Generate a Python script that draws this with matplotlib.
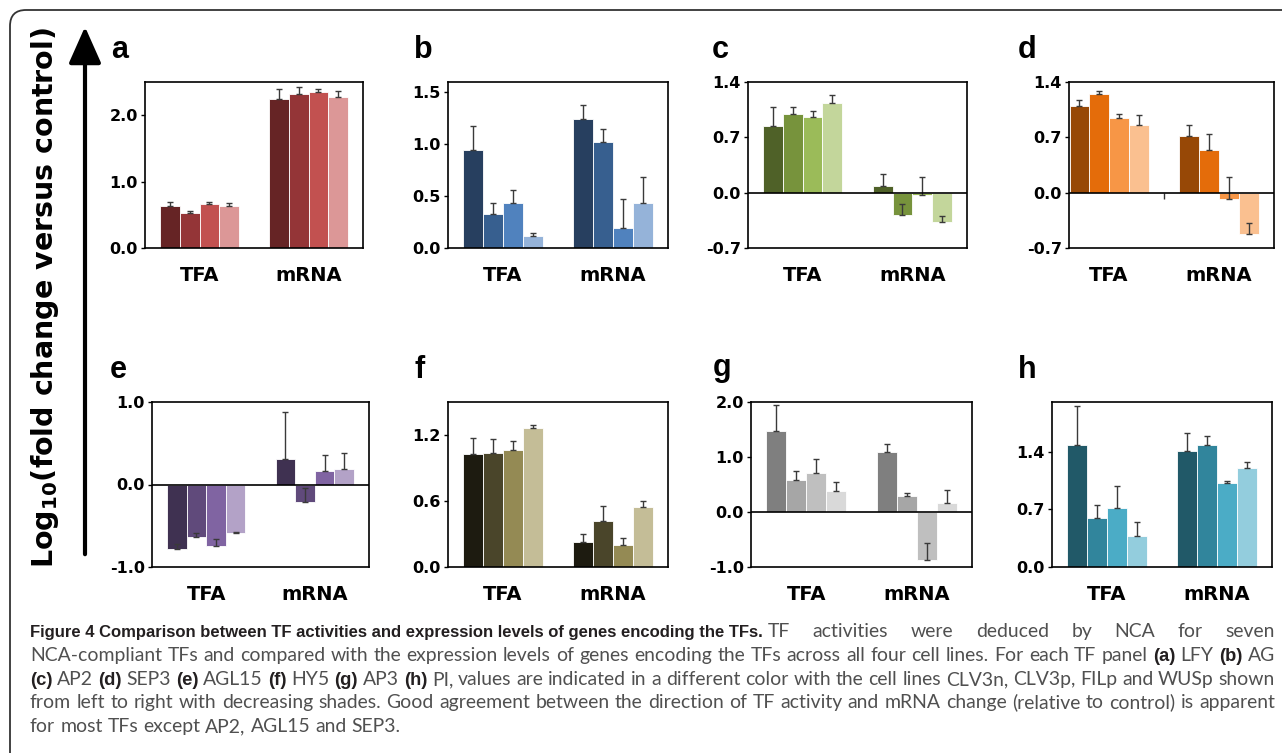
import matplotlib
matplotlib.use('Agg')
import matplotlib.pyplot as plt
import numpy as np
from matplotlib.patches import FancyBboxPatch, FancyArrowPatch
from matplotlib.transforms import IdentityTransform
from matplotlib import font_manager
from matplotlib.font_manager import FontProperties

plt.rcParams['font.family'] = ['Liberation Sans', 'DejaVu Sans']
plt.rcParams['mathtext.fontset'] = 'dejavusans'

W, H = 1282, 753

# ---------------- data ----------------
groups = ['TFA', 'mRNA']
cell_lines = ['CLV3n', 'CLV3p', 'FILp', 'WUSp']

a_vals = [[0.64, 0.53, 0.67, 0.63], [2.25, 2.32, 2.35, 2.27]]
a_err = [[0.05, 0.03, 0.03, 0.05], [0.15, 0.11, 0.04, 0.09]]
b_vals = [[0.945, 0.33, 0.435, 0.12], [1.24, 1.02, 0.19, 0.435]]
b_err = [[0.235, 0.10, 0.125, 0.02], [0.14, 0.13, 0.28, 0.245]]
c_vals = [[0.84, 0.99, 0.96, 1.135], [0.088, -0.28, -0.03, -0.374]]
c_err = [[0.24, 0.09, 0.07, 0.095], [0.147, 0.137, 0.23, 0.074]]
d_vals = [[1.10, 1.25, 0.946, 0.86], [0.72, 0.546, -0.076, -0.52]]
d_err = [[0.07, 0.03, 0.044, 0.12], [0.13, 0.19, 0.28, 0.133]]
e_vals = [[-0.776, -0.634, -0.744, -0.585], [0.313, -0.207, 0.163, 0.19]]
e_err = [[0.056, 0.049, 0.084, 0.008], [0.569, 0.17, 0.195, 0.188]]
f_vals = [[1.03, 1.035, 1.065, 1.266], [0.223, 0.42, 0.198, 0.544]]
f_err = [[0.14, 0.125, 0.085, 0.027], [0.075, 0.136, 0.067, 0.054]]
g_vals = [[1.48, 0.585, 0.71, 0.374], [1.09, 0.30, -0.88, 0.17]]
g_err = [[0.47, 0.155, 0.256, 0.176], [0.15, 0.05, 0.313, 0.234]]
h_vals = [[1.48, 0.59, 0.718, 0.38], [1.404, 1.484, 1.0125, 1.194]]
h_err = [[0.47, 0.156, 0.258, 0.17], [0.216, 0.101, 0.025, 0.073]]

# stray error mark between groups in panel d
d_stray_x = [0.5]
d_stray_val = [-0.08]

a_colors = ['#662425', '#943537', '#c25150', '#dc9797']
b_colors = ['#273f5f', '#375f8f', '#5082be', '#95b3d9']
c_colors = ['#4f6128', '#77933c', '#9bbb59', '#c3d69b']
d_colors = ['#974806', '#e46c0a', '#f79646', '#fac090']
e_colors = ['#3f3151', '#604a7b', '#8064a2', '#b3a2c7']
f_colors = ['#1d1b10', '#4a452a', '#948a54', '#c4bd97']
g_colors = ['#7f7f7f', '#a6a6a6', '#bfbfbf', '#d9d9d9']
h_colors = ['#215968', '#31859c', '#4bacc6', '#93cddd']

a_ticks = [0.0, 1.0, 2.0]
b_ticks = [0.0, 0.5, 1.0, 1.5]
c_ticks = [-0.7, 0.0, 0.7, 1.4]
d_ticks = [-0.7, 0.0, 0.7, 1.4]
e_ticks = [-1.0, 0.0, 1.0]
f_ticks = [0.0, 0.6, 1.2]
g_ticks = [-1.0, 0.0, 1.0, 2.0]
h_ticks = [0.0, 0.7, 1.4]

# ---------------- layout (pixels: left, top, right, bottom) ----------------
panels = [
    dict(name='a', vals=a_vals, err=a_err, colors=a_colors, ticks=a_ticks, ylim=(0, 2.5),
         rect=(145, 82, 363, 248), xlim=(-0.5, 1.5), zero=False, lab=(120, 58)),
    dict(name='b', vals=b_vals, err=b_err, colors=b_colors, ticks=b_ticks, ylim=(0, 1.6),
         rect=(448, 82, 668, 248), xlim=(-0.5, 1.5), zero=False, lab=(423, 58)),
    dict(name='c', vals=c_vals, err=c_err, colors=c_colors, ticks=c_ticks, ylim=(-0.7, 1.4),
         rect=(748, 82, 967, 248), xlim=(-0.5, 1.5), zero=True, lab=(720, 58)),
    dict(name='d', vals=d_vals, err=d_err, colors=d_colors, ticks=d_ticks, ylim=(-0.7, 1.4),
         rect=(1069, 82, 1274, 248), xlim=(-0.365, 1.5), zero=True, lab=(1027, 58)),
    dict(name='e', vals=e_vals, err=e_err, colors=e_colors, ticks=e_ticks, ylim=(-1.0, 1.0),
         rect=(152, 402, 369, 567), xlim=(-0.5, 1.5), zero=True, lab=(118, 378)),
    dict(name='f', vals=f_vals, err=f_err, colors=f_colors, ticks=f_ticks, ylim=(0, 1.5),
         rect=(448, 402, 668, 567), xlim=(-0.5, 1.5), zero=False, lab=(420, 378)),
    dict(name='g', vals=g_vals, err=g_err, colors=g_colors, ticks=g_ticks, ylim=(-1.0, 2.0),
         rect=(751, 402, 972, 567), xlim=(-0.5, 1.5), zero=True, lab=(722, 376)),
    dict(name='h', vals=h_vals, err=h_err, colors=h_colors, ticks=h_ticks, ylim=(0, 2.0),
         rect=(1052, 402, 1272, 567), xlim=(-0.5, 1.5), zero=False, lab=(1027, 378)),
]

fig = plt.figure(figsize=(W / 100, H / 100), dpi=100)
fig.patch.set_facecolor('white')

def fx(x):
    return x / W

def fy(y):
    return 1 - y / H

bar_w = 0.18
offsets = np.array([-1.5, -0.5, 0.5, 1.5]) * bar_w
gx = np.arange(len(groups))

for p in panels:
    l, t, r, b = p['rect']
    ax = fig.add_axes([fx(l), fy(b), (r - l) / W, (b - t) / H])
    vals = np.array(p['vals'])
    err = np.array(p['err'])
    for k in range(len(cell_lines)):
        xs = gx + offsets[k]
        ax.bar(xs, vals[:, k], width=bar_w, color=p['colors'][k],
               edgecolor='white', linewidth=0.6, zorder=2)
        ax.errorbar(xs, vals[:, k], yerr=[np.zeros(len(groups)), err[:, k]],
                    fmt='none', ecolor='#3a3a3a', elinewidth=1.0, capsize=2.5,
                    capthick=1.0, zorder=3)
    if p['name'] == 'd':
        ax.vlines(d_stray_x, 0, d_stray_val, color='#333333', lw=1.0, zorder=3)
    if p['zero']:
        ax.axhline(0, color='black', lw=1.2, zorder=4)
    ax.set_xlim(*p['xlim'])
    ax.set_ylim(*p['ylim'])
    ax.set_yticks(p['ticks'])
    ax.set_yticklabels(['%.1f' % v for v in p['ticks']], fontsize=11.5,
                       fontweight='bold', family='DejaVu Sans')
    ax.set_xticks(gx)
    ax.set_xticklabels(groups, fontsize=14, fontweight='bold', family='DejaVu Sans')
    ax.tick_params(axis='x', length=0, pad=13)
    ax.tick_params(axis='y', length=3, width=1, pad=2, direction='out')
    for s in ax.spines.values():
        s.set_linewidth(1.2)
        s.set_color('black')
    fig.text(fx(p['lab'][0]), fy(p['lab'][1]), p['name'], fontsize=22,
             fontweight='bold', ha='center', va='baseline')

# y label and arrow
fig.text(fx(45), fy(298), 'Log$_\\mathbf{10}$(fold change versus control)', rotation=90,
         fontsize=20.5, fontweight='bold', family='DejaVu Sans', ha='center', va='center')
arrow = FancyArrowPatch((fx(85), fy(557)), (fx(85), fy(24)), transform=fig.transFigure,
                        arrowstyle='-|>,head_length=0.45,head_width=0.2',
                        mutation_scale=50, lw=3.0, color='black')
fig.add_artist(arrow)

# border
border = FancyBboxPatch((10, -40), 1320, 743 + 40, boxstyle='round,pad=0,rounding_size=16',
                        transform=IdentityTransform(), facecolor='none',
                        edgecolor='#333333', lw=1.3)
fig.add_artist(border)

# ---------------- caption ----------------
cap_bold_lead = "Figure 4 Comparison between TF activities and expression levels of genes encoding the TFs."
cap_runs = [
    [(cap_bold_lead, True),
     ("TF activities were deduced by NCA for seven", False)],
    [("NCA-compliant TFs and compared with the expression levels of genes encoding the TFs across all four cell lines. For each TF panel", False),
     ("(a)", True), ("LFY", False), ("(b)", True), ("AG", False)],
    [("(c)", True), ("AP2", False), ("(d)", True), ("SEP3", False), ("(e)", True), ("AGL15", False),
     ("(f)", True), ("HY5", False), ("(g)", True), ("AP3", False), ("(h)", True),
     ("PI, values are indicated in a different color with the cell lines CLV3n, CLV3p, FILp and WUSp shown", False)],
    [("from left to right with decreasing shades. Good agreement between the direction of TF activity and mRNA change (relative to control) is apparent", False)],
    [("for most TFs except AP2, AGL15 and SEP3.", False)],
]
cap_baselines = [637, 661, 685, 708, 732]
cap_left, cap_right = 30, 1275
bold_lead_right = 708
cap_family = ['Lato', 'DejaVu Sans']
bold_family = ['Liberation Sans', 'DejaVu Sans']

renderer = fig.canvas.get_renderer()

def make_style(bold, size):
    if bold:
        fp = FontProperties(family=bold_family, weight='bold', size=size)
        return dict(fontproperties=fp, color='#231f20')
    fp = FontProperties(family=cap_family, weight='normal', size=size)
    return dict(fontproperties=fp, color='#505050')

def measure(word, bold, size):
    t = fig.text(0, 0, word, **make_style(bold, size))
    w = t.get_window_extent(renderer).width
    t.remove()
    return w

lines_tokens = []
for runs in cap_runs:
    toks = []
    for text, bold in runs:
        for wd in text.split(' '):
            toks.append((wd, bold))
    lines_tokens.append(toks)

# regular size: the longest all-regular line fills the width with natural spacing
size = 13.0
for _ in range(2):
    sp = measure('x x', False, size) - measure('xx', False, size)
    toks = lines_tokens[3]
    nat = sum(measure(w, b, size) for w, b in toks) + sp * (len(toks) - 1)
    size = size * (cap_right - cap_left) / nat * 0.99

# bold lead: shrink toward the reference extent but keep it readable
lead_size = size
bw = measure(cap_bold_lead, True, lead_size)
lead_size = max(lead_size * (bold_lead_right - cap_left) / bw, size * 0.86)
tok_bold_size = size * 0.95

for i, toks in enumerate(lines_tokens):
    x = cap_left
    y = fy(cap_baselines[i])
    if i == 0:
        fig.text(fx(x), y, cap_bold_lead, va='baseline', ha='left',
                 **make_style(True, lead_size))
        x += measure(cap_bold_lead, True, lead_size) + 5
        toks = [tk for tk in toks if not tk[1]]
    sizes = [tok_bold_size if b else size for w, b in toks]
    widths = [measure(w, b, s) for (w, b), s in zip(toks, sizes)]
    if i < len(lines_tokens) - 1 and len(toks) > 1:
        gap = (cap_right - x - sum(widths)) / (len(toks) - 1)
    else:
        gap = measure('x x', False, size) - measure('xx', False, size)
    for (wd, bold), wdt, s in zip(toks, widths, sizes):
        fig.text(fx(x), y, wd, va='baseline', ha='left', **make_style(bold, s))
        x += wdt + gap

fig.savefig('out.png', dpi=100)
